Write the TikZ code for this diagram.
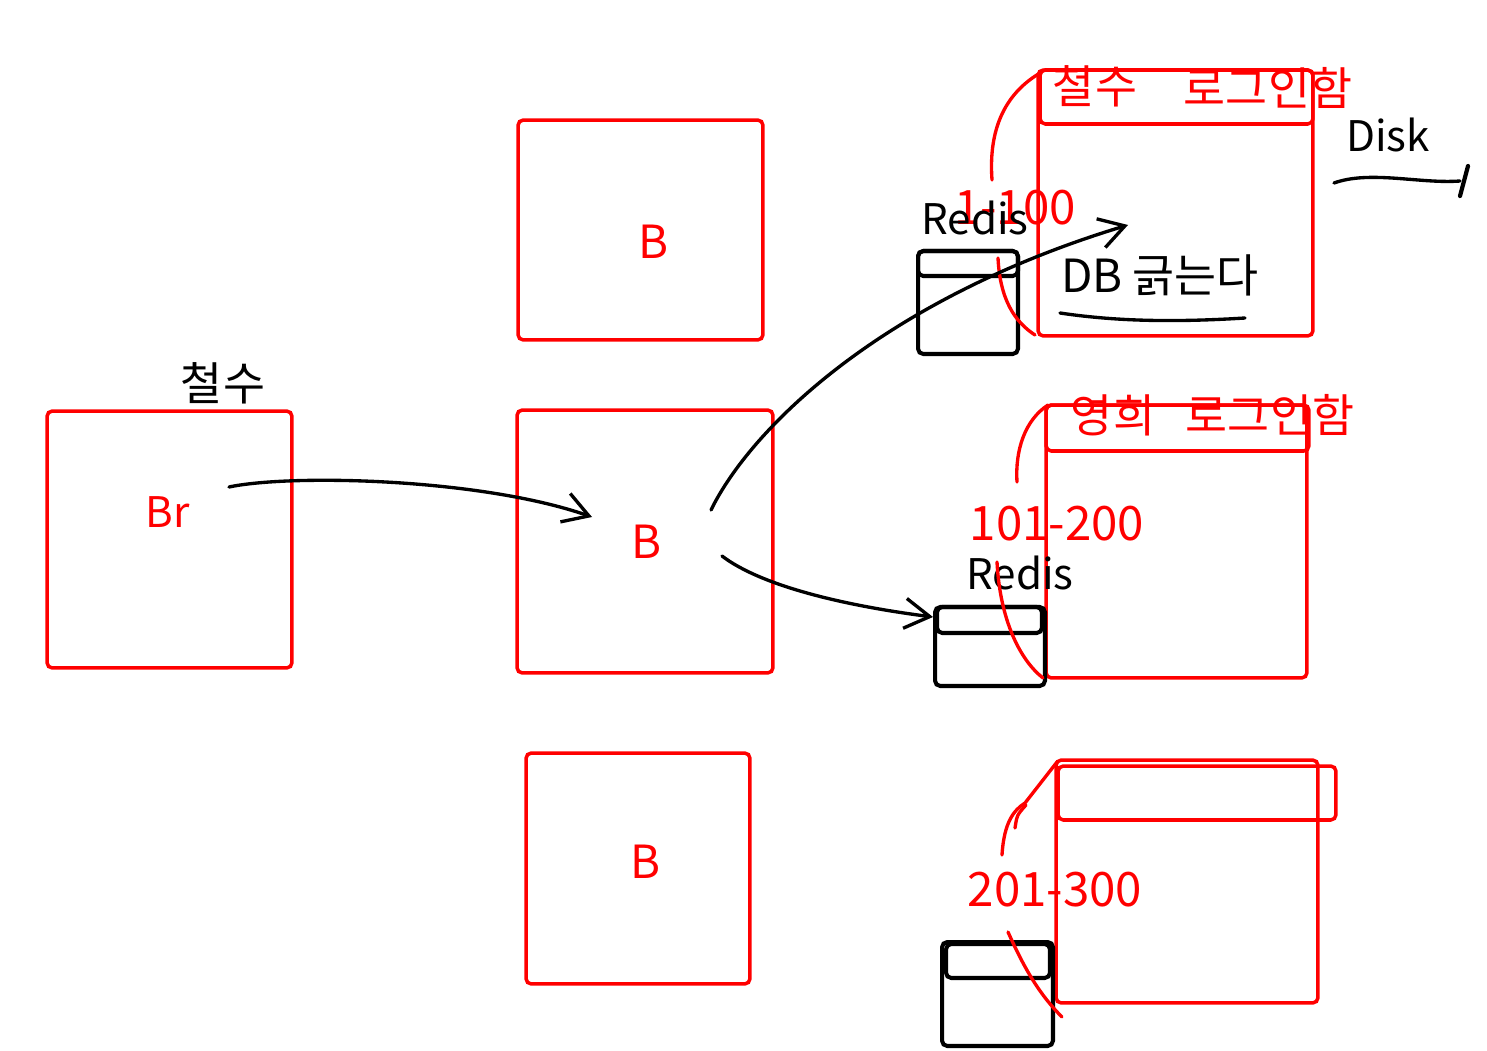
\documentclass[tikz,border=0pt]{standalone}
\usepackage{fontspec}
\setmainfont{Noto Sans CJK KR}
\usepackage{tikz}
\usetikzlibrary{arrows.meta, calc}

\begin{document}
\begin{tikzpicture}[
    x=0.02cm, y=-0.02cm,
    >={Straight Barb[length=5mm, width=6mm]},
    box/.style={rectangle, rounded corners=3pt, draw=#1, line width=2pt, inner sep=0pt},
    txt/.style={font=\fontsize{26}{30}\selectfont, text=#1, inner sep=0pt},
    lat/.style={font=\fontsize{24}{28}\selectfont, text=#1, inner sep=0pt},
    num/.style={font=\fontsize{27}{30}\selectfont, text=#1, inner sep=0pt},
    pen/.style={line width=1.9pt, line cap=round}
]
\useasboundingbox (0,0) rectangle (1487,1051);

% Broker boxes
\node[box=red, minimum width=4.9cm, minimum height=5.14cm] (brbox) at (169.5,539.5) {};
\node[box=red, minimum width=4.9cm, minimum height=4.4cm] (btop) at (640.5,230) {};
\node[box=red, minimum width=5.12cm, minimum height=5.26cm] (bmidbox) at (645,541.5) {};
\node[box=red, minimum width=4.48cm, minimum height=4.62cm] (bbot) at (638,868.5) {};

\node[txt=black] (user) at (223,383) {철수};
\node[lat=red] (br) at (168,512) {Br};
\node[txt=red] (btxt) at (653,242) {B};
\node[txt=red] (bm) at (646,542) {B};
\node[txt=red] (bbtxt) at (645,862) {B};

% Servers
\node[box=red, minimum width=5.5cm, minimum height=5.32cm] (srv1) at (1175.5,203) {};
\node[box=red, minimum width=5.46cm, minimum height=1.08cm] (hdr1) at (1176.5,97) {};
\node[box=red, minimum width=5.22cm, minimum height=5.46cm] (srv2) at (1176.5,541.5) {};
\node[box=red, minimum width=5.26cm, minimum height=0.92cm] (hdr2) at (1177.5,428) {};
\node[box=red, minimum width=5.24cm, minimum height=4.86cm] (srv3) at (1187,881.5) {};
\node[box=red, minimum width=5.56cm, minimum height=1.08cm] (hdr3) at (1197,793) {};

% Redis boxes
\node[box=black, line width=2.3pt, minimum width=2.0cm, minimum height=2.06cm] (redis1) at (968,302.5) {};
\node[box=black, line width=2.3pt, minimum width=2.0cm, minimum height=0.5cm] (rhdr1) at (968,263.5) {};
\node[box=black, line width=2.3pt, minimum width=2.2cm, minimum height=1.58cm] (redis2) at (990,646.5) {};
\node[box=black, line width=2.3pt, minimum width=2.1cm, minimum height=0.52cm] (rhdr2) at (989.5,620) {};
\node[box=black, line width=2.3pt, minimum width=2.22cm, minimum height=2.08cm] (redis3) at (997.5,994) {};
\node[box=black, line width=2.3pt, minimum width=2.08cm, minimum height=0.68cm] (rhdr3) at (998,961) {};

% Labels
\node[txt=red] at (1095,86) {철수};
\node[txt=red] at (1268,88) {로그인함};
\node[txt=red] at (1113,415) {영희};
\node[txt=red] at (1270,415) {로그인함};
\node[lat=black] (disk) at (1388,135) {Disk};
\node[txt=black] (db) at (1160,275) {DB 긁는다};
\node[num=red] at (1015,208) {1-100};
\node[lat=black] at (975,218) {Redis};
\node[num=red] at (1057,524) {101-200};
\node[lat=black] at (1020,573) {Redis};
\node[num=red] at (1055,890) {201-300};

% Range braces
\draw[pen, red] (992,180) .. controls (988,125) and (1008,92) .. (1040,73);
\draw[pen, red] (998,258) .. controls (1000,300) and (1015,322) .. (1035,335);
\draw[pen, red] (1017,482) .. controls (1015,450) and (1025,420) .. (1048,405);
\draw[pen, red] (997,562) .. controls (1000,620) and (1020,660) .. (1043,678);
\draw[pen, red] (1002,855) .. controls (1004,822) and (1014,810) .. (1025,803) -- (1057,762);
\draw[pen, red] (1015,828) .. controls (1017,815) .. (1026,805);
\draw[pen, red] (1008,932) .. controls (1025,970) and (1040,995) .. (1062,1017);

% Marks
\draw[pen] (1334,183) .. controls (1370,170) and (1420,184) .. (1460,181);
\draw[pen, line width=2.4pt] (1468,166) -- (1460,196);
\draw[pen] (1060,313) .. controls (1120,322) and (1180,322) .. (1245,318);

% Arrows
\draw[pen, ->] ($(br)+(61,-25)$) .. controls (290,474) and (480,478) .. ($(bm)+(-54,-25)$);
\draw[pen, ->] ($(bm)+(65,-32)$) .. controls (750,430) and (880,300) .. ($(db)+(-32,-50)$);
\draw[pen, ->] ($(bm)+(76,14)$) .. controls (760,585) and (840,605) .. (redis2.north west |- 0,617);

\end{tikzpicture}
\end{document}
